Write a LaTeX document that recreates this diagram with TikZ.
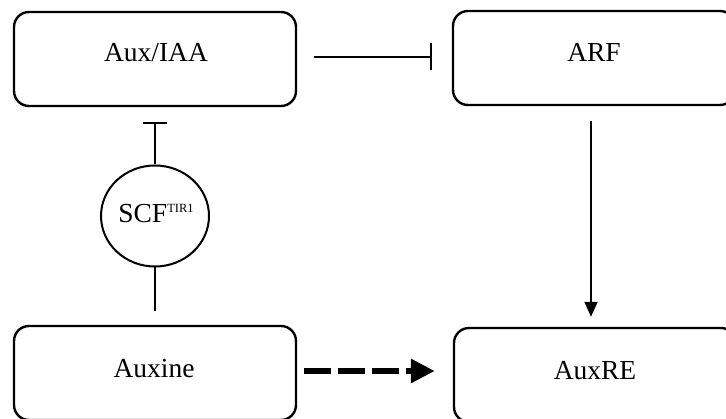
\documentclass[tikz,border=0pt]{standalone}
\usepackage{fontspec}
\setmainfont{Liberation Serif}
\usetikzlibrary{arrows.meta,shapes.geometric}
\begin{document}
\begin{tikzpicture}[x=1pt,y=-1pt,
  boxnode/.style={draw, line width=2.4pt, rounded corners=15pt, minimum width=282pt, minimum height=94pt, inner sep=0pt},
  lbl/.style={anchor=base, inner sep=0pt, font=\fontsize{27.5}{32}\selectfont},
  conn/.style={line width=1.8pt},
  inhib/.style={conn, -{Bar[width=#1, line width=1.8pt]}},
  act/.style={conn, -{Triangle[length=15pt, width=13pt]}},
  dashact/.style={line width=6pt, dash pattern=on 27pt off 7pt, -{Triangle[length=24pt, width=23pt]}}
]
\useasboundingbox (0,0) rectangle (726,419);
\clip (0,0) rectangle (726,419);
% boxes
\node[boxnode] (auxiaa) at (155,59) {};
\node[lbl] (tauxiaa) at (156,62) {Aux/IAA};
\node[boxnode] (arf) at (594,58) {};
\node[lbl] (tarf) at (594,62) {ARF};
\node[boxnode] (auxine) at (155,373) {};
\node[lbl] (tauxine) at (154,378) {Auxine};
\node[boxnode] (auxre) at (595,375) {};
\node[lbl] (tauxre) at (595,380) {AuxRE};
% SCF ellipse
\node[draw, ellipse, line width=2pt, minimum width=108pt, minimum height=101pt, inner sep=0pt] (scf) at (155,216) {};
\node[lbl] (tscf) at (156,223) {SCF\raisebox{10pt}{\fontsize{12.5}{12}\selectfont TIR1}};
% connectors
\draw[inhib=27pt] ([xshift=17pt,yshift=2pt]auxiaa.east) -- ([xshift=-20pt,yshift=1pt]arf.west);
\draw[inhib=24pt] (scf.north) -- ([yshift=-15pt]auxiaa.south);
\draw[conn] ([yshift=14pt]auxine.north) -- (scf.south);
\draw[act] ([xshift=-3pt,yshift=-15pt]arf.south) -- ([xshift=-4pt,yshift=10pt]auxre.north);
\draw[dashact] ([xshift=7pt,yshift=2pt]auxine.east) -- ([xshift=-18pt,yshift=4pt]auxre.west);
\end{tikzpicture}
\end{document}
